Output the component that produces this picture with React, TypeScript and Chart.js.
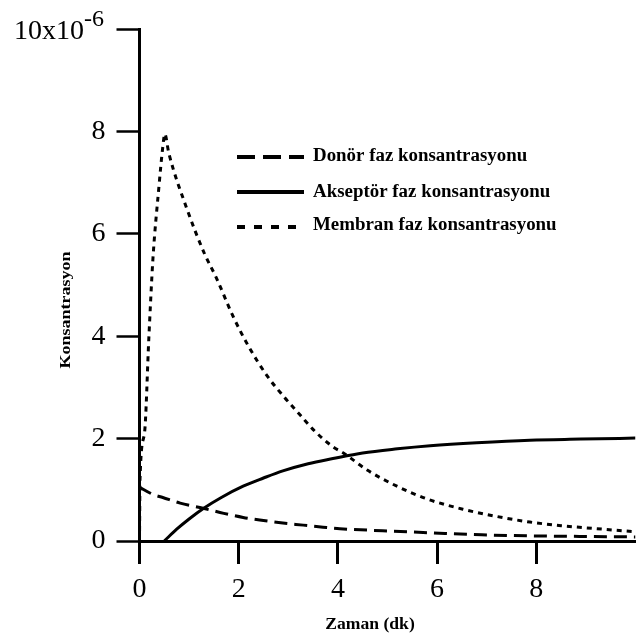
import React, { useEffect, useRef } from "react";
import { Chart, registerables } from "chart.js";

Chart.register(...registerables);

// ---- data (concentration in units of 1e-6) ----
const donorTime = [0, 0.27, 0.47, 0.82, 1.28, 1.7, 2.09, 2.5, 2.89, 3.3, 3.7, 4.04, 4.9, 5.88, 6.9, 7.87, 8.9, 10];
const donorConc = [1.05, 0.91, 0.85, 0.74, 0.64, 0.54, 0.46, 0.4, 0.35, 0.31, 0.27, 0.24, 0.2, 0.16, 0.12, 0.1, 0.09, 0.08];

const acceptorTime = [0.5, 0.75, 1.0, 1.28, 1.65, 2.09, 2.5, 2.89, 3.4, 3.9, 4.5, 5.2, 5.86, 6.8, 7.87, 8.9, 10];
const acceptorConc = [0, 0.23, 0.43, 0.63, 0.85, 1.07, 1.23, 1.37, 1.51, 1.61, 1.72, 1.8, 1.86, 1.92, 1.97, 1.99, 2.01];

const membraneTime = [0, 0.01, 0.1, 0.19, 0.27, 0.39, 0.47, 0.51, 0.59, 0.94, 1.32, 1.54, 1.89, 2.2, 2.57, 2.9, 3.24, 3.55, 3.9, 4.11, 4.6, 5.19, 5.8, 6.52, 7.2, 7.87, 8.5, 9.22, 10];
const membraneConc = [0, 1.2, 2.1, 4.0, 5.5, 6.9, 7.7, 7.95, 7.58, 6.53, 5.59, 5.16, 4.38, 3.8, 3.23, 2.83, 2.46, 2.13, 1.84, 1.72, 1.38, 1.07, 0.82, 0.62, 0.48, 0.37, 0.3, 0.24, 0.18];

const seriesLabels = ["Donör faz konsantrasyonu", "Akseptör faz konsantrasyonu", "Membran faz konsantrasyonu"];
const xTickValues = [0, 2, 4, 6, 8];
const yTickValues = [0, 2, 4, 6, 8, 10];
const yTopLabel = "10x10";
const yTopExponent = "-6";
const xTitle = "Zaman (dk)";
const yTitle = "Konsantrasyon";

const SERIF = '"Liberation Serif", "Times New Roman", serif';

const toPoints = (xs: number[], ys: number[]) => xs.map((x, i) => ({ x, y: ys[i] }));

const dashes = [[13, 7], [], [5, 5]];
const legendDashes = [[18, 8], [], [8, 9]];

const textPlugin = {
  id: "customTexts",
  afterDraw(chart: any) {
    const ctx: CanvasRenderingContext2D = chart.ctx;
    ctx.save();
    ctx.fillStyle = "#000";
    ctx.strokeStyle = "#000";

    // top y label with exponent
    const yScale = chart.scales.y;
    const topY = yScale.getPixelForValue(10);
    ctx.font = `24px ${SERIF}`;
    const expW = ctx.measureText(yTopExponent).width;
    ctx.font = `28px ${SERIF}`;
    const mainW = ctx.measureText(yTopLabel).width;
    const right = 104;
    ctx.textAlign = "left";
    ctx.textBaseline = "alphabetic";
    ctx.fillText(yTopLabel, right - expW - mainW, topY + 10);
    ctx.font = `24px ${SERIF}`;
    ctx.fillText(yTopExponent, right - expW, topY - 3);

    // y axis title
    ctx.save();
    ctx.translate(66, 310);
    ctx.rotate(-Math.PI / 2);
    ctx.scale(1.2, 1);
    ctx.font = `bold 15px ${SERIF}`;
    ctx.textAlign = "center";
    ctx.textBaseline = "middle";
    ctx.fillText(yTitle, 0, 0);
    ctx.restore();

    // x axis title
    ctx.save();
    ctx.translate(370, 625);
    ctx.scale(1.1, 1);
    ctx.font = `bold 16px ${SERIF}`;
    ctx.textAlign = "center";
    ctx.textBaseline = "middle";
    ctx.fillText(xTitle, 0, 0);
    ctx.restore();

    // legend
    const rowsLine = [157, 192, 227];
    const rowsText = [161, 197, 230];
    chart.data.datasets.forEach((ds: any, i: number) => {
      ctx.save();
      ctx.lineWidth = 4;
      ctx.lineCap = "butt";
      ctx.setLineDash(legendDashes[i]);
      ctx.beginPath();
      ctx.moveTo(237, rowsLine[i]);
      ctx.lineTo(304, rowsLine[i]);
      ctx.stroke();
      ctx.restore();
      ctx.save();
      ctx.translate(313, rowsText[i]);
      ctx.scale(1.05, 1);
      ctx.font = `bold 18px ${SERIF}`;
      ctx.textAlign = "left";
      ctx.textBaseline = "alphabetic";
      ctx.fillText(ds.label, 0, 0);
      ctx.restore();
    });
    ctx.restore();
  },
};

export default function App() {
  const ref = useRef<HTMLCanvasElement | null>(null);

  useEffect(() => {
    if (!ref.current) return;
    const series = [
      toPoints(donorTime, donorConc),
      toPoints(acceptorTime, acceptorConc),
      toPoints(membraneTime, membraneConc),
    ];
    const chart = new Chart(ref.current, {
      type: "line",
      data: {
        datasets: series.map((data, i) => ({
          label: seriesLabels[i],
          data,
          borderColor: "#000",
          backgroundColor: "#000",
          borderWidth: 3,
          borderDash: dashes[i],
          pointRadius: 0,
          fill: false,
          cubicInterpolationMode: "monotone" as const,
        })),
      },
      options: {
        responsive: false,
        animation: false,
        maintainAspectRatio: false,
        layout: { padding: { top: 29, right: 1.5, left: 0, bottom: 0 } },
        plugins: { legend: { display: false }, tooltip: { enabled: false }, title: { display: false } },
        scales: {
          x: {
            type: "linear",
            min: 0,
            max: 10,
            afterBuildTicks: (s: any) => {
              s.ticks = xTickValues.map((v) => ({ value: v }));
            },
            afterFit: (s: any) => {
              s.height = 99;
            },
            grid: {
              display: true,
              drawOnChartArea: false,
              drawTicks: true,
              tickLength: 23,
              tickWidth: 3,
              tickColor: "#000",
            },
            border: { display: true, color: "#000", width: 3 },
            ticks: {
              color: "#000",
              font: { family: SERIF, size: 28 },
              padding: 9,
              maxRotation: 0,
              autoSkip: false,
              callback: (v: any) => String(v),
            },
          },
          y: {
            type: "linear",
            min: 0,
            max: 10,
            afterBuildTicks: (s: any) => {
              s.ticks = yTickValues.map((v) => ({ value: v }));
            },
            afterFit: (s: any) => {
              s.width = 139.5;
            },
            grid: {
              display: true,
              drawOnChartArea: false,
              drawTicks: true,
              tickLength: 23,
              tickWidth: 2.5,
              tickColor: "#000",
            },
            border: { display: true, color: "#000", width: 3 },
            ticks: {
              color: "#000",
              font: { family: SERIF, size: 28 },
              padding: 11,
              autoSkip: false,
              callback: (v: any) => (v === 10 ? "" : String(v)),
            },
          },
        },
      },
      plugins: [textPlugin],
    });
    return () => chart.destroy();
  }, []);

  return (
    <div style={{ position: "absolute", left: 0, top: 0, width: 637, height: 640, background: "#fff" }}>
      <canvas ref={ref} width={637} height={640} style={{ width: 637, height: 640, display: "block" }} />
    </div>
  );
}
